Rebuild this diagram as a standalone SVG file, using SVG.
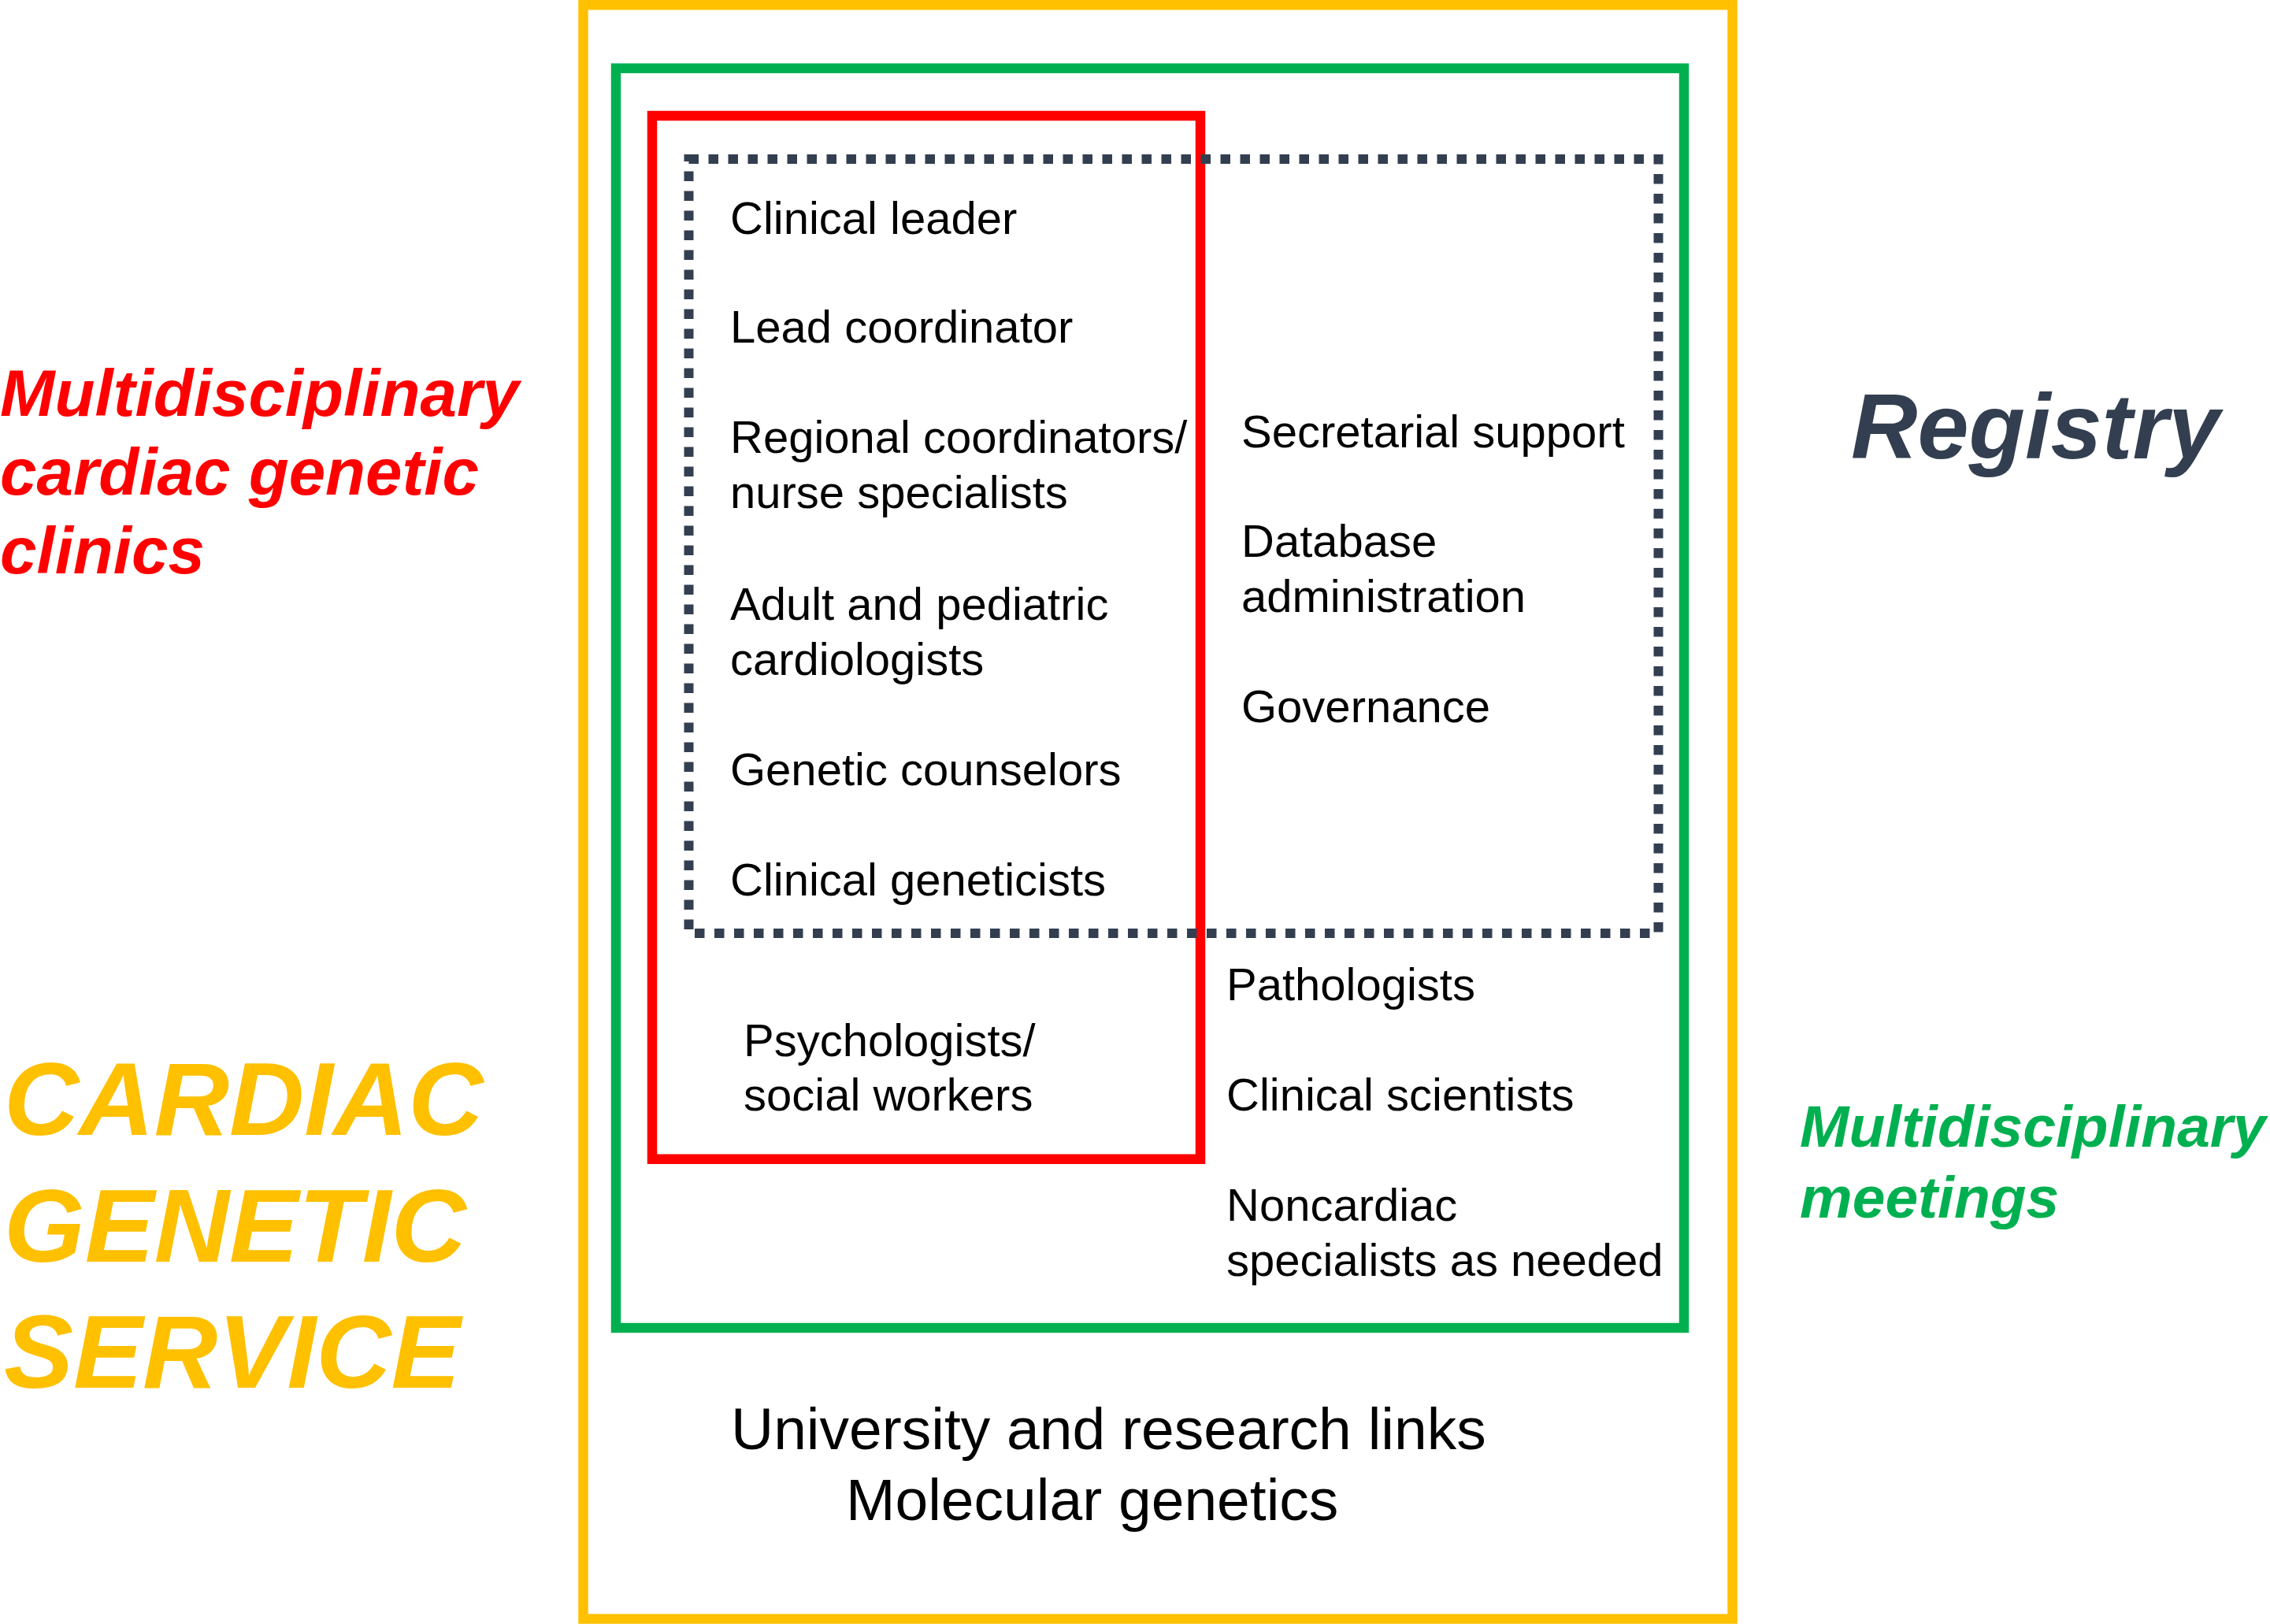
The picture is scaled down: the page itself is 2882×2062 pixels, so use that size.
<svg xmlns="http://www.w3.org/2000/svg" width="2882" height="2062" viewBox="0 0 2882 2062">
<style>
.frame{fill:none;stroke-width:12.5}
.t{font-family:"Liberation Sans",Arial,sans-serif;font-size:58px;fill:#000}
.big{font-family:"Liberation Sans",Arial,sans-serif;font-size:75px;fill:#000}
.lab{font-family:"Liberation Sans",Arial,sans-serif;font-weight:bold;font-style:italic}
</style>
<rect width="2882" height="2062" fill="#fff"/>
<g id="service">
<rect class="frame" x="740.5" y="6.3" width="1459" height="2049.2" stroke="#FFC000"/>
<text class="lab" x="5" y="1441" font-size="132" fill="#FFC000">CARDIAC</text>
<text class="lab" x="5" y="1602" font-size="132" fill="#FFC000">GENETIC</text>
<text class="lab" x="5" y="1762" font-size="132" fill="#FFC000">SERVICE</text>
<text class="big" x="928" y="1840">University and research links</text>
<text class="big" x="1074" y="1930">Molecular genetics</text>
</g>
<g id="meetings">
<rect class="frame" x="782" y="86.7" width="1356" height="1599.3" stroke="#00B050"/>
<text class="lab" x="2285" y="1456" font-size="75" fill="#00B050">Multidisciplinary</text>
<text class="lab" x="2285" y="1546" font-size="75" fill="#00B050">meetings</text>
<text class="t" x="1557" y="1270">Pathologists</text>
<text class="t" x="1557" y="1410">Clinical scientists</text>
<text class="t" x="1557" y="1550">Noncardiac</text>
<text class="t" x="1557" y="1620">specialists as needed</text>
</g>
<g id="clinics">
<rect class="frame" x="828" y="147" width="696" height="1324.7" stroke="#FF0000"/>
<text class="lab" x="0" y="528" font-size="83.5" fill="#FF0000">Multidisciplinary</text>
<text class="lab" x="0" y="628" font-size="83.5" fill="#FF0000">cardiac genetic</text>
<text class="lab" x="0" y="728" font-size="83.5" fill="#FF0000">clinics</text>
<text class="t" x="944" y="1341">Psychologists/</text>
<text class="t" x="944" y="1410">social workers</text>
</g>
<g id="registry">
<rect x="874.5" y="202" width="1231" height="983" fill="none" stroke="#333F50" stroke-width="12" stroke-dasharray="12.5 12.5"/>
<text class="lab" x="2350" y="582" font-size="117" fill="#333F50">Registry</text>
<text class="t" x="927" y="297">Clinical leader</text>
<text class="t" x="927" y="435">Lead coordinator</text>
<text class="t" x="927" y="575">Regional coordinators/</text>
<text class="t" x="927" y="645">nurse specialists</text>
<text class="t" x="927" y="787">Adult and pediatric</text>
<text class="t" x="927" y="857">cardiologists</text>
<text class="t" x="927" y="997">Genetic counselors</text>
<text class="t" x="927" y="1137">Clinical geneticists</text>
<text class="t" x="1576" y="568">Secretarial support</text>
<text class="t" x="1576" y="707">Database</text>
<text class="t" x="1576" y="777">administration</text>
<text class="t" x="1576" y="917">Governance</text>
</g>
<g id="connectors"></g>
</svg>
